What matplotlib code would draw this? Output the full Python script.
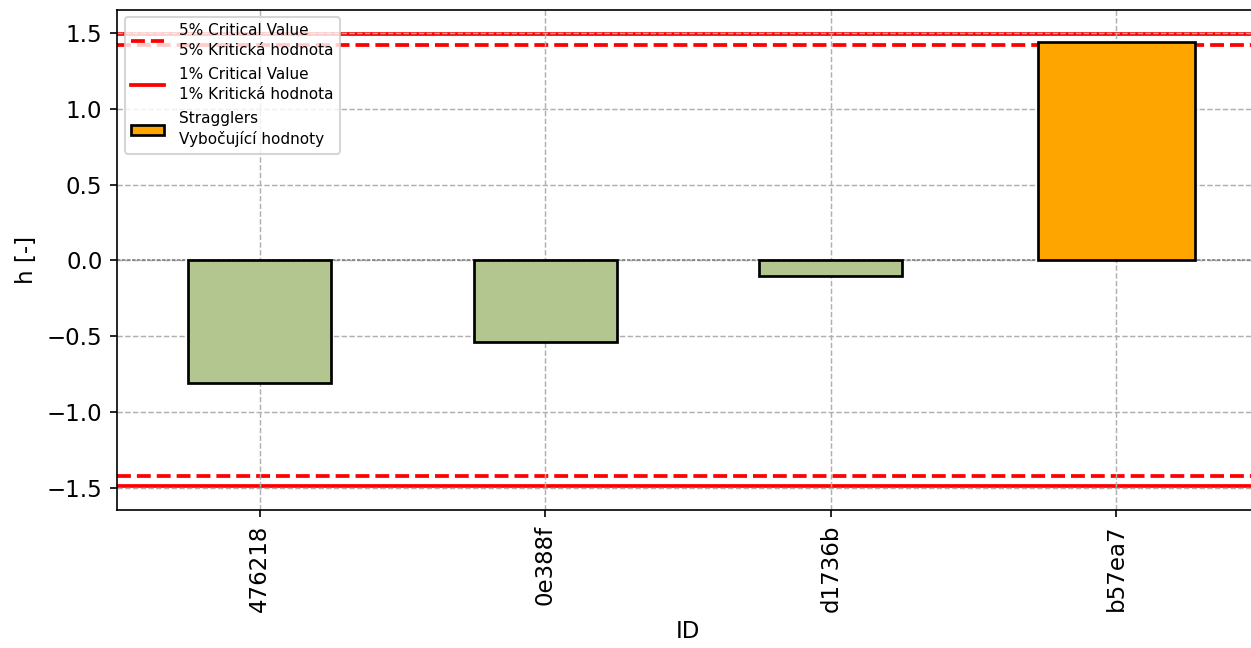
import numpy as np
import matplotlib.pyplot as plt
from matplotlib.lines import Line2D
from matplotlib.patches import Patch

ids = ['476218', '0e388f', 'd1736b', 'b57ea7']
h_values = [-0.81, -0.54, -0.10, 1.44]
crit_5 = 1.42
crit_1 = 1.49

fig = plt.figure(figsize=(1251/150, 648/150), dpi=150)
ax = fig.add_axes([0.0935, 0.213, 0.913, 0.772])

x = np.arange(len(ids))
is_straggler = [abs(v) > crit_5 for v in h_values]
colors = ['orange' if s else '#b3c68f' for s in is_straggler]
widths = [0.55 if s else 0.5 for s in is_straggler]
ax.bar(x, h_values, width=widths, color=colors, edgecolor='black', linewidth=1.3, zorder=3)

ax.axhline(0, color='grey', linewidth=0.8, linestyle=(0, (2, 1)), zorder=2)
for s in (1, -1):
    ax.axhline(s * crit_5, color='red', linestyle='--', linewidth=1.8, zorder=0.5)
    ax.axhline(s * crit_1, color='red', linestyle='-', linewidth=1.8, zorder=0.5)

ax.set_xlim(-0.5, 3.5)
ax.set_ylim(-1.645, 1.652)
ax.set_xticks(x)
ax.set_xticklabels(ids, rotation=90, fontsize=11)
ax.tick_params(axis='y', labelsize=11)
ax.set_xlabel('ID', fontsize=11)
ax.set_ylabel('h [-]', fontsize=11)
ax.grid(True, linestyle='--', color='#b0b0b0', linewidth=0.7, zorder=1)

handles = [
    Line2D([], [], color='red', linestyle='--', linewidth=1.8),
    Line2D([], [], color='red', linestyle='-', linewidth=1.8),
    Patch(facecolor='orange', edgecolor='black', linewidth=1.3),
]
labels = ['5% Critical Value\n5% Kritická hodnota',
          '1% Critical Value\n1% Kritická hodnota',
          'Stragglers\nVybočující hodnoty']
leg = ax.legend(handles, labels, loc='upper left', fontsize=7.3, framealpha=0.8,
                handlelength=2.2, handletextpad=1.0, labelspacing=0.6)
for t in leg.get_texts():
    t.set_linespacing(1.4)
leg.set_zorder(5)

fig.savefig('out.png', dpi=150)
